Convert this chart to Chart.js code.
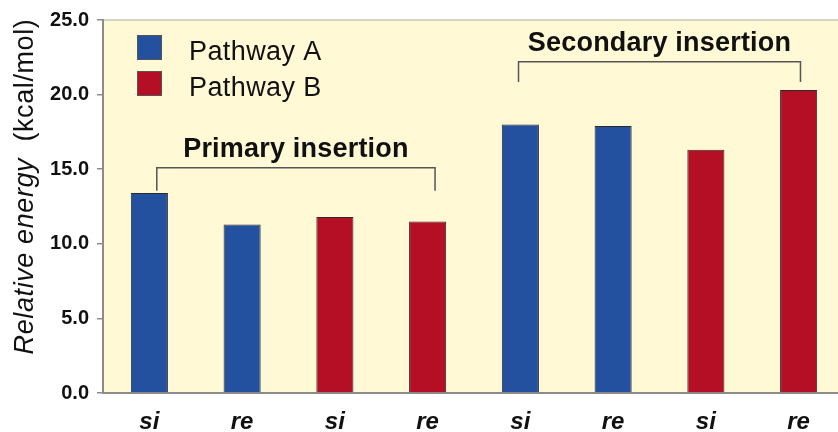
<!DOCTYPE html>
<html>
<head>
    <meta charset="UTF-8">
    <title>Relative energy</title>
    <script src="https://cdn.jsdelivr.net/npm/chart.js"></script>
    <style>
        html, body { margin: 0; background: #fff; overflow: hidden; }
    </style>
</head>
<body>
    <!-- the plot runs slightly past the right edge in the original, so the canvas is a bit wider than the window -->
    <canvas id="myChart" width="845" height="432"></canvas>

    <script>
        // data
        const categories = ['si', 're', 'si', 're', 'si', 're', 'si', 're'];
        const pathwayA = [13.4, 11.3, null, null, 18.0, 17.9, null, null];
        const pathwayB = [null, null, 11.8, 11.5, null, null, 16.3, 20.3];
        const seriesNames = ['Pathway A', 'Pathway B'];
        const groupLabels = ['Primary insertion', 'Secondary insertion'];
        const groupFirst = [0, 4];
        const groupLast = [3, 7];

        const blue = '#2450a0';
        const red = '#b40f24';
        const axisGray = '#8c8c8c';
        const fam = '"Liberation Sans", Arial, sans-serif';

        // bracket placement (value units for y, index fractions for x)
        const brackets = [
            { from: groupFirst[0] + 0.08, to: groupLast[0] + 0.08, level: 15.1, drop: 13.55 },
            { from: groupFirst[1] - 0.02, to: groupLast[1] + 0.02, level: 22.2, drop: 20.85 }
        ];

        const decor = {
            id: 'decor',
            beforeDraw(chart) {
                const { ctx, chartArea: a } = chart;
                ctx.save();
                ctx.fillStyle = '#fff9d6';
                ctx.fillRect(a.left, a.top, a.right - a.left, a.bottom - a.top);
                ctx.strokeStyle = '#c8c4b8';
                ctx.lineWidth = 1.5;
                ctx.beginPath();
                ctx.moveTo(a.left, a.top);
                ctx.lineTo(a.right, a.top);
                ctx.stroke();
                ctx.restore();
            },
            afterDraw(chart) {
                const { ctx, chartArea: a } = chart;
                const x = chart.scales.x, y = chart.scales.y;
                ctx.save();

                // legend inside the plot
                const colors = [blue, red];
                ctx.font = '27px ' + fam;
                ctx.letterSpacing = '0.4px';
                ctx.textBaseline = 'alphabetic';
                ctx.textAlign = 'left';
                seriesNames.forEach((name, i) => {
                    const top = a.top + 15 + i * 36;
                    ctx.fillStyle = colors[i];
                    ctx.fillRect(a.left + 34, top, 25, 25);
                    ctx.strokeStyle = '#555';
                    ctx.lineWidth = 1;
                    ctx.strokeRect(a.left + 34.5, top + 0.5, 24, 24);
                    ctx.fillStyle = '#111';
                    ctx.fillText(name, a.left + 86, top + 25);
                });

                // group brackets with labels
                ctx.strokeStyle = '#555';
                ctx.lineWidth = 1.5;
                ctx.font = 'bold 27px ' + fam;
                ctx.letterSpacing = '0.2px';
                ctx.textAlign = 'center';
                brackets.forEach((b, i) => {
                    const x0 = x.getPixelForValue(b.from);
                    const x1 = x.getPixelForValue(b.to);
                    const yl = y.getPixelForValue(b.level);
                    const yd = y.getPixelForValue(b.drop);
                    ctx.beginPath();
                    ctx.moveTo(x0, yd);
                    ctx.lineTo(x0, yl);
                    ctx.lineTo(x1, yl);
                    ctx.lineTo(x1, yd);
                    ctx.stroke();
                    ctx.fillStyle = '#111';
                    ctx.fillText(groupLabels[i], (x0 + x1) / 2, yl - 11);
                });

                // y axis title: italic part + upright unit
                ctx.translate(33, (a.top + a.bottom) / 2 - 20);
                ctx.rotate(-Math.PI / 2);
                ctx.letterSpacing = '0.6px';
                ctx.textAlign = 'left';
                const part1 = 'Relative energy';
                const part2 = '  (kcal/mol)';
                ctx.font = 'italic 27px ' + fam;
                const w1 = ctx.measureText(part1).width;
                ctx.font = '27px ' + fam;
                const w2 = ctx.measureText(part2).width;
                const start = -(w1 + w2) / 2;
                ctx.fillStyle = '#111';
                ctx.font = 'italic 27px ' + fam;
                ctx.fillText(part1, start, 0);
                ctx.font = '27px ' + fam;
                ctx.fillText(part2, start + w1, 0);
                ctx.restore();
            }
        };

        const ctx = document.getElementById('myChart').getContext('2d');
        const myChart = new Chart(ctx, {
            type: 'bar',
            data: {
                labels: categories,
                datasets: [{
                    label: seriesNames[0],
                    data: pathwayA,
                    backgroundColor: blue,
                    borderColor: '#2b2b2b',
                    borderWidth: 1,
                    borderSkipped: 'bottom',
                    barPercentage: 0.4,
                    categoryPercentage: 1
                }, {
                    label: seriesNames[1],
                    data: pathwayB,
                    backgroundColor: red,
                    borderColor: '#2b2b2b',
                    borderWidth: 1,
                    borderSkipped: 'bottom',
                    barPercentage: 0.4,
                    categoryPercentage: 1
                }]
            },
            options: {
                responsive: false,
                animation: false,
                layout: { padding: { top: 20, left: 0, right: 0, bottom: 0 } },
                plugins: {
                    legend: { display: false },
                    tooltip: { enabled: false }
                },
                scales: {
                    x: {
                        stacked: true,
                        grid: { display: false, drawTicks: false },
                        border: { display: true, color: axisGray, width: 2 },
                        ticks: {
                            color: '#111',
                            padding: 15,
                            font: { family: fam, size: 24, weight: 'bold', style: 'italic' }
                        },
                        afterFit(scale) { scale.height = 39; }
                    },
                    y: {
                        min: 0,
                        max: 25,
                        ticks: {
                            stepSize: 5,
                            color: '#111',
                            padding: 8,
                            callback: v => v.toFixed(1),
                            font: { family: fam, size: 20, weight: 'bold' }
                        },
                        grid: { drawOnChartArea: false, tickLength: 6, color: axisGray, lineWidth: 1.5 },
                        border: { display: true, color: axisGray, width: 2 },
                        afterFit(scale) { scale.width = 103; }
                    }
                }
            },
            plugins: [decor]
        });
    </script>
</body>
</html>
